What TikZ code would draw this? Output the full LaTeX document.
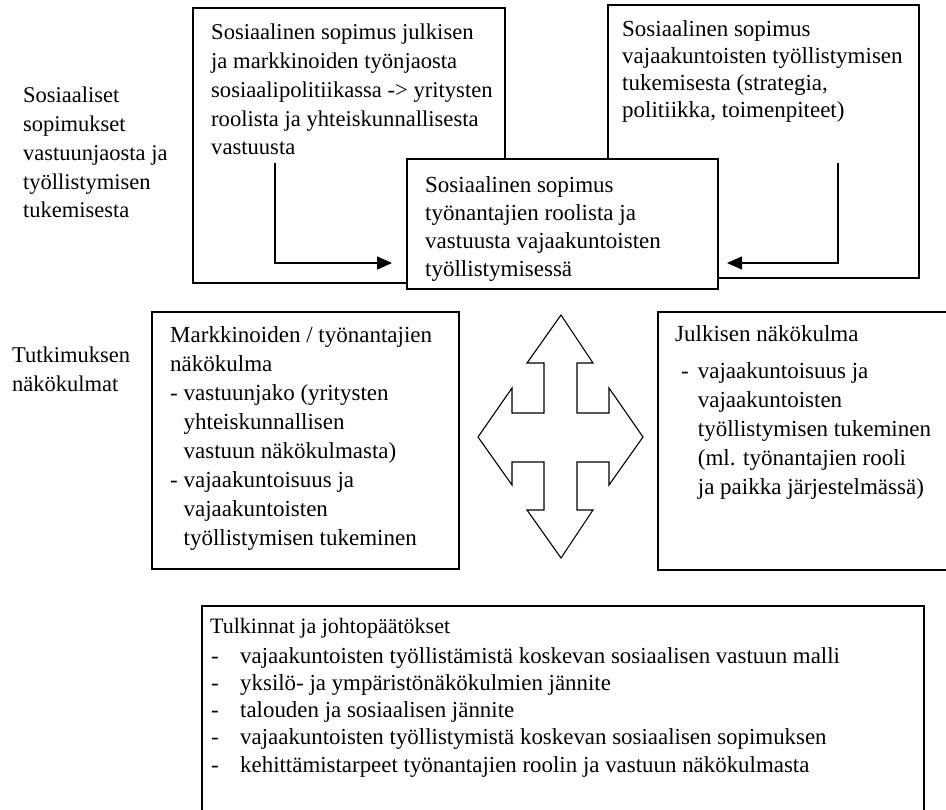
\documentclass[tikz,border=0pt]{standalone}
\usepackage{fontspec}
\setmainfont{Liberation Serif}
\usetikzlibrary{arrows.meta}
\begin{document}
\begin{tikzpicture}[x=1pt,y=-1pt,
  box/.style={draw, line width=1.2pt, fill=white, inner sep=0pt, outer sep=0pt},
  txt/.style={anchor=base west, inner sep=0pt, align=left, font=\fontsize{23}{28.8}\selectfont},
  conn/.style={line width=1.6pt, -{Triangle[length=15pt,width=13pt]}}]
\useasboundingbox (0,0) rectangle (946,810);
% top boxes
\node[box, minimum width=312pt, minimum height=275pt] (b1) at (349,145.5) {};
\node[box, minimum width=311pt, minimum height=273pt] (b2) at (763.5,141.5) {};
\node[box, minimum width=311pt, minimum height=130pt] (bc) at (562.5,224) {};
% texts of top boxes (anchor = baseline of last line)
\node[txt, font=\fontsize{22.6}{28.8}\selectfont] (t1) at (211,155) {Sosiaalinen sopimus julkisen\\ja markkinoiden työnjaosta\\sosiaalipolitiikassa -> yritysten\\roolista ja yhteiskunnallisesta\\vastuusta};
\node[txt, font=\fontsize{23}{27}\selectfont] (t2) at (622,118) {Sosiaalinen sopimus\\vajaakuntoisten työllistymisen\\tukemisesta (strategia,\\politiikka, toimenpiteet)};
\node[txt, font=\fontsize{23}{28.3}\selectfont] (tc) at (425,277) {Sosiaalinen sopimus\\työnantajien roolista ja\\vastuusta vajaakuntoisten\\työllistymisessä};
% connectors
\coordinate (s1) at (275,163);
\coordinate (e1) at (392,263);
\coordinate (s2) at (838,163);
\coordinate (e2) at (727,263);
\draw[conn] (s1) |- (e1);
\draw[conn] (s2) |- (e2);
% left labels
\node[txt, font=\fontsize{22.5}{28.8}\selectfont] (l1) at (23,218) {Sosiaaliset\\sopimukset\\vastuunjaosta ja\\työllistymisen\\tukemisesta};
\node[txt, font=\fontsize{22.5}{29}\selectfont] (l2) at (12,392) {Tutkimuksen\\näkökulmat};
% middle boxes
\node[box, minimum width=307pt, minimum height=257pt] (bm) at (305.5,440.5) {};
\node[txt, font=\fontsize{23}{29}\selectfont] (tm) at (170,545) {Markkinoiden / työnantajien\\näkökulma\\- vastuunjako (yritysten\\\phantom{- }yhteiskunnallisen\\\phantom{- }vastuun näkökulmasta)\\- vajaakuntoisuus ja\\\phantom{- }vajaakuntoisten\\\phantom{- }työllistymisen tukeminen};
\draw[line width=1.2pt] (946,312) -- (658,312) -- (658,570) -- (946,570);
\node[txt] (tjh) at (675,342) {Julkisen näkökulma};
\node[txt, font=\fontsize{23}{29}\selectfont] (tjb) at (681,494) {-\hspace{9pt}vajaakuntoisuus ja\\\phantom{-}\hspace{9pt}vajaakuntoisten\\\phantom{-}\hspace{9pt}työllistymisen tukeminen\\\phantom{-}\hspace{9pt}(ml. työnantajien rooli\\\phantom{-}\hspace{9pt}ja paikka järjestelmässä)};
% cross arrow
\draw[line width=1.1pt, fill=white, line join=miter]
  (561,315) -- (593,363) -- (577,363) -- (577,413) -- (609,413) -- (609,388)
  -- (643,437) -- (609,485) -- (609,462) -- (577,462) -- (577,510) -- (593,510)
  -- (561,558) -- (527,510) -- (544,510) -- (544,462) -- (512,462) -- (512,485)
  -- (478,437) -- (512,388) -- (512,413) -- (544,413) -- (544,363) -- (527,363) -- cycle;
% bottom box
\draw[line width=1.2pt] (202,812) -- (202,606) -- (924,606) -- (924,812);
\node[txt, font=\fontsize{22}{27}\selectfont] (th) at (210,633) {Tulkinnat ja johtopäätökset};
\node[txt, font=\fontsize{22.9}{27.25}\selectfont] (tb) at (211,772) {\makebox[29pt][l]{-}vajaakuntoisten työllistämistä koskevan sosiaalisen vastuun malli\\\makebox[29pt][l]{-}yksilö- ja ympäristönäkökulmien jännite\\\makebox[29pt][l]{-}talouden ja sosiaalisen jännite\\\makebox[29pt][l]{-}vajaakuntoisten työllistymistä koskevan sosiaalisen sopimuksen\\\makebox[29pt][l]{-}kehittämistarpeet työnantajien roolin ja vastuun näkökulmasta};
\end{tikzpicture}
\end{document}
